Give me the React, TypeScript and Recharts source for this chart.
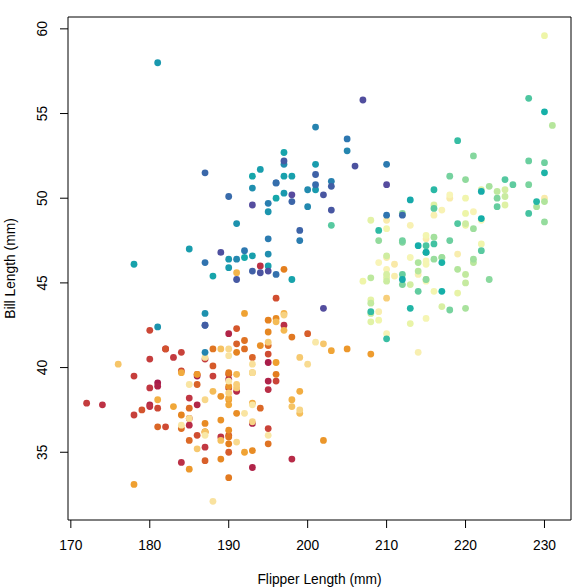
import React from "react";
import {
    ScatterChart,
    Scatter,
    XAxis,
    YAxis,
    ReferenceArea,
    Label,
} from "recharts";

// Palmer penguins, rows in dataset order (null = missing)
const adelieFlipper = [
    181, 186, 195, null, 193, 190, 181, 195, 193, 190, 186, 180, 182, 191, 198, 185, 195, 197, 184, 194,
    174, 180, 189, 185, 180, 187, 183, 187, 172, 180, 178, 178, 188, 184, 195, 196, 190, 180, 181, 184,
    182, 195, 186, 196, 185, 190, 182, 179, 190, 191, 186, 188, 190, 200, 187, 191, 186, 193, 181, 194,
    185, 195, 185, 192, 184, 192, 195, 188, 190, 198, 190, 190, 196, 197, 190, 195, 191, 184, 187, 195,
    189, 196, 187, 193, 191, 194, 190, 189, 189, 190, 202, 205, 185, 186, 187, 208, 190, 196, 178, 192,
    192, 203, 183, 190, 193, 184, 199, 190, 181, 197, 198, 191, 193, 197, 191, 196, 188, 199, 189, 189,
    187, 198, 176, 202, 186, 199, 191, 195, 191, 210, 190, 197, 193, 199, 187, 190, 191, 200, 185, 193,
    193, 187, 188, 190, 192, 185, 190, 184, 195, 193, 187, 201,
];
const adelieBill = [
    39.1, 39.5, 40.3, null, 36.7, 39.3, 38.9, 39.2, 34.1, 42.0, 37.8, 37.8, 41.1, 38.6, 34.6, 36.6, 38.7, 42.5, 34.4, 46.0,
    37.8, 37.7, 35.9, 38.2, 38.8, 35.3, 40.6, 40.5, 37.9, 40.5, 39.5, 37.2, 39.5, 40.9, 36.4, 39.2, 38.8, 42.2, 37.6, 39.8,
    36.5, 40.8, 36.0, 44.1, 37.0, 39.6, 41.1, 37.5, 36.0, 42.3, 39.6, 40.1, 35.0, 42.0, 34.5, 41.4, 39.0, 40.6, 36.5, 37.6,
    35.7, 41.3, 37.6, 41.1, 36.4, 41.6, 35.5, 41.1, 35.9, 41.8, 33.5, 39.7, 39.6, 45.8, 35.5, 42.8, 40.9, 37.2, 36.2, 42.1,
    34.6, 42.9, 36.7, 35.1, 37.3, 41.3, 36.3, 36.9, 38.3, 38.9, 35.7, 41.1, 34.0, 39.6, 36.2, 40.8, 38.1, 40.3, 33.1, 43.2,
    35.0, 41.0, 37.7, 37.8, 37.9, 39.7, 38.6, 38.2, 38.1, 43.2, 38.1, 45.6, 39.7, 42.2, 39.6, 42.7, 38.6, 37.3, 35.7, 41.1,
    36.2, 37.7, 40.2, 41.4, 35.2, 40.6, 38.8, 41.5, 39.0, 44.1, 38.5, 43.1, 36.8, 37.5, 38.1, 41.1, 35.6, 40.2, 37.0, 39.7,
    40.2, 40.6, 32.1, 40.7, 37.3, 39.0, 39.2, 36.6, 36.0, 37.8, 36.0, 41.5,
];

const gentooFlipper = [
    211, 230, 210, 218, 215, 210, 211, 219, 209, 215, 214, 216, 214, 213, 210, 217, 210, 221, 209, 222,
    218, 215, 213, 215, 215, 215, 216, 215, 210, 220, 222, 209, 207, 230, 220, 220, 213, 219, 208, 208,
    208, 225, 210, 216, 222, 217, 210, 225, 213, 215, 210, 220, 210, 225, 217, 220, 208, 220, 208, 224,
    208, 221, 214, 231, 219, 230, 214, 229, 220, 223, 216, 221, 221, 217, 216, 230, 209, 220, 215, 223,
    212, 221, 212, 224, 212, 228, 218, 218, 212, 230, 218, 228, 212, 224, 214, 226, 216, 222, 203, 225,
    219, 228, 215, 228, 216, 215, 210, 219, 208, 209, 216, 229, 213, 230, 217, 230, 217, 222, 214, null,
    215, 222, 212, 213,
];
const gentooBill = [
    46.1, 50.0, 48.7, 50.0, 47.6, 46.5, 45.4, 46.7, 43.3, 46.8, 40.9, 49.0, 45.5, 48.4, 45.8, 49.3, 42.0, 49.2, 46.2, 48.7,
    50.2, 45.1, 46.5, 46.3, 42.9, 46.1, 44.5, 47.8, 48.2, 50.0, 47.3, 42.8, 45.1, 59.6, 49.1, 48.4, 42.6, 44.4, 44.0, 48.7,
    42.7, 49.6, 45.3, 49.6, 50.5, 43.6, 45.5, 50.5, 44.9, 45.2, 46.6, 48.5, 45.1, 50.1, 46.5, 45.0, 43.8, 45.5, 43.2, 50.4,
    45.3, 46.2, 45.7, 54.3, 45.8, 49.8, 46.2, 49.5, 43.5, 50.7, 47.7, 46.4, 48.2, 46.5, 46.4, 48.6, 47.5, 51.1, 45.2, 45.2,
    49.1, 52.5, 47.4, 50.0, 44.9, 50.8, 43.4, 51.3, 47.5, 52.1, 47.5, 52.2, 45.5, 49.5, 44.5, 50.8, 49.4, 46.9, 48.4, 51.1,
    48.5, 55.9, 47.2, 49.1, 47.3, 46.8, 41.7, 53.4, 43.3, 48.1, 50.5, 49.8, 43.5, 51.5, 46.2, 55.1, 44.5, 48.8, 47.2, null,
    46.8, 50.4, 45.2, 49.9,
];

const chinstrapFlipper = [
    192, 196, 193, 188, 197, 198, 178, 197, 195, 198, 193, 194, 185, 201, 190, 201, 197, 181, 190, 195,
    181, 191, 187, 193, 195, 197, 200, 200, 191, 205, 187, 201, 187, 203, 195, 199, 195, 210, 192, 205,
    210, 187, 196, 196, 196, 201, 190, 212, 187, 198, 199, 201, 193, 203, 187, 197, 191, 203, 202, 194,
    206, 189, 195, 207, 202, 193, 210, 198,
];
const chinstrapBill = [
    46.5, 50.0, 51.3, 45.4, 52.7, 45.2, 46.1, 51.3, 46.0, 51.3, 46.6, 51.7, 47.0, 52.0, 45.9, 50.5, 50.3, 58.0, 46.4, 49.2,
    42.4, 48.5, 43.2, 50.6, 46.7, 52.0, 50.5, 49.5, 46.4, 52.8, 40.9, 54.2, 42.5, 51.0, 49.7, 47.5, 47.6, 52.0, 46.9, 53.5,
    49.0, 46.2, 50.9, 45.5, 50.9, 50.8, 50.1, 49.0, 51.5, 49.8, 48.1, 51.4, 45.7, 50.7, 42.5, 52.2, 45.2, 49.3, 50.2, 45.6,
    51.9, 46.8, 45.7, 55.8, 43.5, 49.6, 50.8, 50.2,
];

const xTicks = [170, 180, 190, 200, 210, 220, 230];
const yTicks = [35, 40, 45, 50, 55, 60];

// spectral-ish ramp, coloured by row number
const rampStops: [number, string][] = [
    [0.0, "#A71B4B"],
    [0.06, "#BE3345"],
    [0.13, "#D2502F"],
    [0.215, "#E4801E"],
    [0.285, "#EFA030"],
    [0.33, "#F4B850"],
    [0.415, "#F9E3A0"],
    [0.5, "#F8F5B8"],
    [0.54, "#EEF5A8"],
    [0.627, "#B6E69C"],
    [0.738, "#4EC6A0"],
    [0.779, "#14B0A8"],
    [0.855, "#1A98AE"],
    [0.92, "#2E76B0"],
    [0.985, "#4F4F9E"],
    [1.0, "#584B9F"],
];

function hexRgb(h: string) {
    return [1, 3, 5].map((i) => parseInt(h.slice(i, i + 2), 16));
}

function ramp(t: number) {
    for (let i = 1; i < rampStops.length; i++) {
        const [t1, c1] = rampStops[i];
        if (t <= t1) {
            const [t0, c0] = rampStops[i - 1];
            const f = (t - t0) / (t1 - t0);
            const a = hexRgb(c0);
            const b = hexRgb(c1);
            const rgb = a.map((v, k) => Math.round(v + (b[k] - v) * f));
            return `rgb(${rgb.join(",")})`;
        }
    }
    return rampStops[rampStops.length - 1][1];
}

const flipper = [...adelieFlipper, ...gentooFlipper, ...chinstrapFlipper];
const bill = [...adelieBill, ...gentooBill, ...chinstrapBill];

const data = flipper
    .map((f, i) => ({
        flipper: f,
        bill: bill[i],
        color: ramp(i / (flipper.length - 1)),
    }))
    .filter((d) => d.flipper != null && d.bill != null);

const FONT = "'Liberation Sans', Arial, Helvetica, sans-serif";
const FS = 13.8;
const xDomain: [number, number] = [169.64, 233.36];
const yDomain: [number, number] = [31.0, 60.7];

const YTick = (props: any) => (
    <text
        x={47.5}
        y={props.y}
        transform={`rotate(-90 47.5 ${props.y})`}
        textAnchor="middle"
        fontSize={FS}
        fontFamily={FONT}
        fill="#000"
    >
        {props.payload.value}
    </text>
);

export default function App() {
    return (
        <div style={{ position: "absolute", left: 0, top: 0, background: "#fff" }}>
            <ScatterChart
                width={588}
                height={588}
                margin={{ top: 17, right: 17, bottom: 0, left: 0 }}
            >
                <XAxis
                    type="number"
                    dataKey="flipper"
                    domain={xDomain}
                    ticks={xTicks}
                    interval={0}
                    height={68}
                    axisLine={false}
                    tickSize={8}
                    tickMargin={12.5}
                    tickLine={{ stroke: "#000" }}
                    tick={{ fontSize: FS, fontFamily: FONT, fill: "#000" }}
                >
                    <Label
                        content={(p: any) => (
                            <text
                                x={p.viewBox.x + p.viewBox.width / 2}
                                y={584}
                                textAnchor="middle"
                                fontSize={FS}
                                fontFamily={FONT}
                                fill="#000"
                            >
                                Flipper Length (mm)
                            </text>
                        )}
                    />
                </XAxis>
                <YAxis
                    type="number"
                    dataKey="bill"
                    domain={yDomain}
                    ticks={yTicks}
                    interval={0}
                    width={68}
                    axisLine={false}
                    tickSize={8}
                    tickLine={{ stroke: "#000" }}
                    tick={YTick}
                >
                    <Label
                        content={(p: any) => {
                            const cy = p.viewBox.y + p.viewBox.height / 2;
                            return (
                                <text
                                    x={15}
                                    y={cy}
                                    transform={`rotate(-90 15 ${cy})`}
                                    textAnchor="middle"
                                    fontSize={FS}
                                    fontFamily={FONT}
                                    fill="#000"
                                >
                                    Bill Length (mm)
                                </text>
                            );
                        }}
                    />
                </YAxis>
                <ReferenceArea
                    x1={xDomain[0]}
                    x2={xDomain[1]}
                    y1={yDomain[0]}
                    y2={yDomain[1]}
                    fill="none"
                    fillOpacity={0}
                    stroke="#000"
                    strokeOpacity={1}
                />
                <Scatter
                    data={data}
                    isAnimationActive={false}
                    shape={(p: any) => (
                        <circle cx={p.cx} cy={p.cy} r={3.4} fill={p.payload.color} />
                    )}
                />
            </ScatterChart>
        </div>
    );
}
